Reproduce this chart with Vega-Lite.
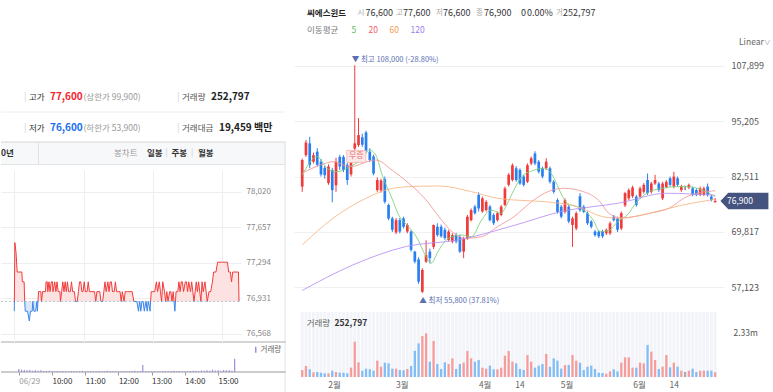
{
"$schema": "https://vega.github.io/schema/vega-lite/v6.json",
"background": "white",
"padding": 0,
"spacing": 8,
"bounds": "full",
"config": {"view": {"stroke": null}, "font": "Noto Sans CJK KR"},
"resolve": {"scale": {"color": "independent"}, "legend": {"color": "independent"}},
"datasets": {
"candles": [
{"i":0,"o":80200,"h":86600,"l":79000,"c":86300,"v":370000},
{"i":1,"o":87400,"h":90900,"l":87000,"c":90300,"v":582000},
{"i":2,"o":90100,"h":91600,"l":84400,"c":85200,"v":408000},
{"i":3,"o":85900,"h":88000,"l":85500,"c":87400,"v":249000},
{"i":4,"o":88200,"h":89000,"l":84800,"c":85200,"v":265000},
{"i":5,"o":85900,"h":86500,"l":82500,"c":83000,"v":228000},
{"i":6,"o":84500,"h":85000,"l":82000,"c":82800,"v":196000},
{"i":7,"o":81000,"h":85300,"l":80600,"c":84800,"v":196000},
{"i":8,"o":84000,"h":84500,"l":76600,"c":79400,"v":334000},
{"i":9,"o":80500,"h":86800,"l":79000,"c":85900,"v":265000},
{"i":10,"o":87000,"h":87500,"l":84000,"c":84800,"v":228000},
{"i":11,"o":87000,"h":87400,"l":83500,"c":84000,"v":228000},
{"i":12,"o":85200,"h":85600,"l":80600,"c":81700,"v":196000},
{"i":13,"o":83000,"h":86500,"l":82500,"c":86000,"v":494000},
{"i":14,"o":88900,"h":108000,"l":88500,"c":90100,"v":1870000},
{"i":15,"o":89700,"h":95900,"l":89300,"c":92000,"v":777000},
{"i":16,"o":91500,"h":92300,"l":89300,"c":89800,"v":334000},
{"i":17,"o":92600,"h":93000,"l":88000,"c":88400,"v":440000},
{"i":18,"o":88200,"h":89000,"l":85800,"c":86300,"v":408000},
{"i":19,"o":87100,"h":87500,"l":82800,"c":83200,"v":334000},
{"i":20,"o":79400,"h":82300,"l":79000,"c":81700,"v":865000},
{"i":21,"o":79300,"h":82000,"l":78800,"c":81600,"v":547000},
{"i":22,"o":81900,"h":82500,"l":76300,"c":76700,"v":760000},
{"i":23,"o":76000,"h":76300,"l":72500,"c":72900,"v":724000},
{"i":24,"o":72900,"h":73300,"l":69800,"c":70300,"v":440000},
{"i":25,"o":69700,"h":73000,"l":69300,"c":72500,"v":440000},
{"i":26,"o":72500,"h":73000,"l":69500,"c":69900,"v":370000},
{"i":27,"o":72900,"h":73300,"l":70600,"c":71000,"v":353000},
{"i":28,"o":69900,"h":71800,"l":69500,"c":71400,"v":424000},
{"i":29,"o":69900,"h":70200,"l":65300,"c":65700,"v":582000},
{"i":30,"o":65300,"h":65500,"l":62600,"c":63000,"v":1390000},
{"i":31,"o":63500,"h":64000,"l":57900,"c":58400,"v":1780000},
{"i":32,"o":56100,"h":61500,"l":55800,"c":61100,"v":2170000},
{"i":33,"o":63000,"h":67900,"l":62700,"c":64500,"v":2310000},
{"i":34,"o":65300,"h":66000,"l":62600,"c":63800,"v":811000},
{"i":35,"o":66400,"h":71500,"l":65900,"c":71400,"v":1910000},
{"i":36,"o":71000,"h":71800,"l":68700,"c":69100,"v":688000},
{"i":37,"o":71000,"h":71500,"l":68500,"c":68800,"v":424000},
{"i":38,"o":70300,"h":70800,"l":68000,"c":68400,"v":777000},
{"i":39,"o":68000,"h":70300,"l":67600,"c":69900,"v":688000},
{"i":40,"o":67600,"h":69500,"l":67200,"c":69100,"v":988000},
{"i":41,"o":69100,"h":69600,"l":67200,"c":67600,"v":424000},
{"i":42,"o":68700,"h":69200,"l":65000,"c":65300,"v":688000},
{"i":43,"o":65300,"h":68700,"l":63800,"c":68300,"v":760000},
{"i":44,"o":68300,"h":73700,"l":68000,"c":73300,"v":1380000},
{"i":45,"o":72500,"h":75200,"l":72200,"c":74800,"v":988000},
{"i":46,"o":75600,"h":76000,"l":73800,"c":74100,"v":811000},
{"i":47,"o":78300,"h":78900,"l":74500,"c":75200,"v":900000},
{"i":48,"o":74500,"h":77900,"l":74200,"c":77500,"v":494000},
{"i":49,"o":74800,"h":77100,"l":74500,"c":76700,"v":440000},
{"i":50,"o":75600,"h":76000,"l":72200,"c":72500,"v":600000},
{"i":51,"o":73700,"h":74100,"l":71400,"c":71800,"v":408000},
{"i":52,"o":72500,"h":74500,"l":72200,"c":74100,"v":408000},
{"i":53,"o":73700,"h":76000,"l":73400,"c":75600,"v":494000},
{"i":54,"o":76000,"h":80200,"l":75700,"c":79800,"v":1130000},
{"i":55,"o":80600,"h":83300,"l":80200,"c":82900,"v":1380000},
{"i":56,"o":81700,"h":85500,"l":81400,"c":85100,"v":811000},
{"i":57,"o":84400,"h":84900,"l":81300,"c":81700,"v":724000},
{"i":58,"o":84000,"h":84400,"l":80600,"c":80900,"v":424000},
{"i":59,"o":82500,"h":82900,"l":80200,"c":80600,"v":370000},
{"i":60,"o":81300,"h":85500,"l":81000,"c":85100,"v":1160000},
{"i":61,"o":85500,"h":87100,"l":85100,"c":86700,"v":811000},
{"i":62,"o":87800,"h":88300,"l":85100,"c":85500,"v":494000},
{"i":63,"o":85900,"h":86300,"l":83200,"c":83600,"v":600000},
{"i":64,"o":84400,"h":84800,"l":82100,"c":82500,"v":688000},
{"i":65,"o":84400,"h":86700,"l":84000,"c":85900,"v":1220000},
{"i":66,"o":84400,"h":84800,"l":80900,"c":81300,"v":547000},
{"i":67,"o":81300,"h":81700,"l":78600,"c":79000,"v":988000},
{"i":68,"o":77100,"h":77500,"l":74000,"c":74400,"v":865000},
{"i":69,"o":75600,"h":76000,"l":72900,"c":73300,"v":440000},
{"i":70,"o":74400,"h":77500,"l":74000,"c":77100,"v":635000},
{"i":71,"o":75600,"h":76000,"l":71800,"c":72200,"v":635000},
{"i":72,"o":71400,"h":73300,"l":66400,"c":72900,"v":1160000},
{"i":73,"o":70600,"h":74500,"l":70200,"c":74100,"v":865000},
{"i":74,"o":78000,"h":78700,"l":74400,"c":74800,"v":760000},
{"i":75,"o":75600,"h":76000,"l":74100,"c":74400,"v":370000},
{"i":76,"o":74100,"h":74500,"l":71400,"c":71800,"v":547000},
{"i":77,"o":72200,"h":72500,"l":70600,"c":71000,"v":600000},
{"i":78,"o":69900,"h":70300,"l":68700,"c":69100,"v":424000},
{"i":79,"o":69900,"h":70200,"l":68400,"c":68800,"v":228000},
{"i":80,"o":69900,"h":70300,"l":68400,"c":68800,"v":212000},
{"i":81,"o":69500,"h":70600,"l":69100,"c":70300,"v":176000},
{"i":82,"o":69500,"h":72200,"l":69100,"c":71800,"v":300000},
{"i":83,"o":73300,"h":73700,"l":72200,"c":72500,"v":408000},
{"i":84,"o":72900,"h":73300,"l":69800,"c":70300,"v":300000},
{"i":85,"o":70600,"h":74500,"l":70200,"c":74100,"v":760000},
{"i":86,"o":75900,"h":79000,"l":75500,"c":78700,"v":1040000},
{"i":87,"o":77500,"h":79800,"l":77100,"c":79400,"v":1040000},
{"i":88,"o":78000,"h":80400,"l":77600,"c":80000,"v":494000},
{"i":89,"o":77900,"h":78300,"l":75600,"c":76000,"v":494000},
{"i":90,"o":77900,"h":80200,"l":77500,"c":79800,"v":760000},
{"i":91,"o":79000,"h":81000,"l":78600,"c":80600,"v":724000},
{"i":92,"o":81700,"h":83200,"l":78300,"c":78700,"v":1690000},
{"i":93,"o":79000,"h":81300,"l":78600,"c":80900,"v":1340000},
{"i":94,"o":80900,"h":82900,"l":80600,"c":81700,"v":900000},
{"i":95,"o":80900,"h":81300,"l":79000,"c":79400,"v":424000},
{"i":96,"o":77500,"h":81300,"l":77100,"c":80900,"v":547000},
{"i":97,"o":80100,"h":81700,"l":79800,"c":81300,"v":1160000},
{"i":98,"o":82100,"h":82500,"l":80200,"c":80600,"v":512000},
{"i":99,"o":80200,"h":83600,"l":79800,"c":82500,"v":760000},
{"i":100,"o":82100,"h":82500,"l":80200,"c":80600,"v":547000},
{"i":101,"o":79400,"h":80600,"l":79000,"c":80200,"v":334000},
{"i":102,"o":79800,"h":80400,"l":79400,"c":79800,"v":265000},
{"i":103,"o":80000,"h":80900,"l":79600,"c":80600,"v":334000},
{"i":104,"o":79800,"h":80200,"l":78000,"c":78300,"v":440000},
{"i":105,"o":79400,"h":79800,"l":78000,"c":78300,"v":265000},
{"i":106,"o":78300,"h":80200,"l":78000,"c":79800,"v":334000},
{"i":107,"o":78300,"h":80200,"l":78000,"c":79800,"v":334000},
{"i":108,"o":80200,"h":80900,"l":77900,"c":78300,"v":334000},
{"i":109,"o":77900,"h":78300,"l":76800,"c":77100,"v":334000},
{"i":110,"o":76600,"h":77600,"l":76600,"c":76900,"v":252797}
],
"ma": [
{"k":"5","i":0,"v":82860},{"k":"5","i":4,"v":87050},{"k":"5","i":6.6,"v":84400},{"k":"5","i":9.2,"v":83600},{"k":"5","i":12.7,"v":84760},{"k":"5","i":16.1,"v":86680},{"k":"5","i":17.9,"v":88580},{"k":"5","i":19.6,"v":87440},{"k":"5","i":21.3,"v":82860},{"k":"5","i":23.9,"v":77520},{"k":"5","i":25.7,"v":73700},{"k":"5","i":28.3,"v":71010},{"k":"5","i":30.4,"v":68720},{"k":"5","i":33,"v":64140},{"k":"5","i":34.3,"v":62630},{"k":"5","i":36.4,"v":65680},{"k":"5","i":39,"v":68360},{"k":"5","i":42.5,"v":69110},{"k":"5","i":45.1,"v":68720},{"k":"5","i":47.8,"v":72550},{"k":"5","i":50.3,"v":74840},{"k":"5","i":52.9,"v":74080},{"k":"5","i":54.7,"v":76370},{"k":"5","i":56.4,"v":79420},{"k":"5","i":58.5,"v":82470},{"k":"5","i":61.9,"v":84000},{"k":"5","i":64.5,"v":84390},{"k":"5","i":67.1,"v":82100},{"k":"5","i":68.9,"v":78670},{"k":"5","i":70.6,"v":76380},{"k":"5","i":73.2,"v":75600},{"k":"5","i":74.9,"v":74840},{"k":"5","i":77.5,"v":72550},{"k":"5","i":79.3,"v":69870},{"k":"5","i":81.9,"v":70250},{"k":"5","i":84,"v":72160},{"k":"5","i":86.6,"v":73700},{"k":"5","i":89.2,"v":76740},{"k":"5","i":92.5,"v":79030},{"k":"5","i":96.1,"v":79810},{"k":"5","i":99.6,"v":80180},{"k":"5","i":102.9,"v":80180},{"k":"5","i":106.5,"v":79420},{"k":"5","i":110,"v":77880},
{"k":"20","i":0,"v":83320},{"k":"20","i":4.9,"v":85150},{"k":"20","i":8.2,"v":85900},{"k":"20","i":12.7,"v":84760},{"k":"20","i":19.6,"v":86300},{"k":"20","i":23.9,"v":84000},{"k":"20","i":28.3,"v":81030},{"k":"20","i":33,"v":77130},{"k":"20","i":36.4,"v":73300},{"k":"20","i":39.9,"v":69870},{"k":"20","i":43.4,"v":68360},{"k":"20","i":47.8,"v":68720},{"k":"20","i":52,"v":71010},{"k":"20","i":56.4,"v":73300},{"k":"20","i":61.1,"v":76740},{"k":"20","i":64.5,"v":78660},{"k":"20","i":69.7,"v":79810},{"k":"20","i":74.9,"v":79030},{"k":"20","i":79.3,"v":76740},{"k":"20","i":81.6,"v":74150},{"k":"20","i":85,"v":73000},{"k":"20","i":92.5,"v":74080},{"k":"20","i":97.7,"v":75230},{"k":"20","i":102.4,"v":77880},{"k":"20","i":110,"v":79260},
{"k":"60","i":0,"v":66820},{"k":"60","i":8.2,"v":72940},{"k":"60","i":17,"v":77520},{"k":"60","i":22.2,"v":79420},{"k":"60","i":28.3,"v":80180},{"k":"60","i":36.4,"v":80340},{"k":"60","i":45.1,"v":79030},{"k":"60","i":52,"v":77520},{"k":"60","i":56.4,"v":77130},{"k":"60","i":64.5,"v":76740},{"k":"60","i":73.3,"v":75600},{"k":"60","i":80.1,"v":73300},{"k":"60","i":84.5,"v":72940},{"k":"60","i":92.5,"v":74080},{"k":"60","i":101.4,"v":75990},{"k":"60","i":110,"v":77290},
{"k":"120","i":0,"v":56400},{"k":"120","i":13.5,"v":62240},{"k":"120","i":27.7,"v":66480},{"k":"120","i":41.6,"v":67970},{"k":"120","i":56.4,"v":71290},{"k":"120","i":68.9,"v":74450},{"k":"120","i":84.5,"v":76440},{"k":"120","i":97,"v":78670},{"k":"120","i":110,"v":78200}
],
"ip": [
{"t":0,"p":76800},{"t":1,"p":77500},{"t":3,"p":77400},{"t":5,"p":77200},{"t":13,"p":77200},{"t":14,"p":77100},{"t":17,"p":77100},{"t":18,"p":76900},{"t":19,"p":76800},{"t":23,"p":76800},{"t":26,"p":76700},{"t":28,"p":76800},{"t":31,"p":76800},{"t":32,"p":76900},{"t":34,"p":76800},{"t":37,"p":76800},{"t":39,"p":76900},{"t":40,"p":76800},{"t":41,"p":76900},{"t":42,"p":77000},{"t":46,"p":77000},{"t":47,"p":76900},{"t":49,"p":77000},{"t":54,"p":77000},{"t":55,"p":77100},{"t":57,"p":77100},{"t":58,"p":77000},{"t":60,"p":77100},{"t":62,"p":77000},{"t":64,"p":77100},{"t":66,"p":77100},{"t":67,"p":77000},{"t":70,"p":77100},{"t":72,"p":77000},{"t":74,"p":77100},{"t":76,"p":77000},{"t":79,"p":77000},{"t":80,"p":76900},{"t":82,"p":77000},{"t":84,"p":77100},{"t":86,"p":77000},{"t":88,"p":77100},{"t":90,"p":77000},{"t":92,"p":77100},{"t":94,"p":77000},{"t":97,"p":77000},{"t":99,"p":77100},{"t":101,"p":77000},{"t":104,"p":77000},{"t":106,"p":76900},{"t":109,"p":76900},{"t":111,"p":77000},{"t":113,"p":77100},{"t":115,"p":77100},{"t":117,"p":77000},{"t":119,"p":77000},{"t":121,"p":77100},{"t":123,"p":77000},{"t":126,"p":77000},{"t":128,"p":77100},{"t":130,"p":77000},{"t":134,"p":77000},{"t":139,"p":77000},{"t":141,"p":76900},{"t":143,"p":77000},{"t":148,"p":77000},{"t":150,"p":76900},{"t":153,"p":76900},{"t":155,"p":77000},{"t":157,"p":77100},{"t":159,"p":77000},{"t":162,"p":77100},{"t":164,"p":77000},{"t":166,"p":77100},{"t":168,"p":77100},{"t":170,"p":77000},{"t":173,"p":77000},{"t":175,"p":77100},{"t":177,"p":77000},{"t":180,"p":77000},{"t":183,"p":77000},{"t":185,"p":76900},{"t":187,"p":77000},{"t":190,"p":76900},{"t":192,"p":77000},{"t":196,"p":77000},{"t":200,"p":77000},{"t":204,"p":77000},{"t":207,"p":76900},{"t":212,"p":76900},{"t":215,"p":76800},{"t":217,"p":76900},{"t":219,"p":76800},{"t":221,"p":76900},{"t":223,"p":76900},{"t":225,"p":76800},{"t":228,"p":76900},{"t":230,"p":76800},{"t":232,"p":76900},{"t":235,"p":76800},{"t":237,"p":77000},{"t":240,"p":77000},{"t":243,"p":77000},{"t":246,"p":77100},{"t":248,"p":77000},{"t":251,"p":77100},{"t":253,"p":77000},{"t":255,"p":76900},{"t":257,"p":77100},{"t":260,"p":77000},{"t":262,"p":76900},{"t":264,"p":77000},{"t":266,"p":76900},{"t":269,"p":77000},{"t":271,"p":77000},{"t":273,"p":76900},{"t":275,"p":77000},{"t":278,"p":76800},{"t":280,"p":77000},{"t":283,"p":77000},{"t":285,"p":77100},{"t":287,"p":77000},{"t":289,"p":77100},{"t":291,"p":77100},{"t":293,"p":77000},{"t":296,"p":77100},{"t":298,"p":77100},{"t":300,"p":77000},{"t":302,"p":77100},{"t":305,"p":77000},{"t":307,"p":77100},{"t":309,"p":77000},{"t":311,"p":76900},{"t":313,"p":77000},{"t":315,"p":77100},{"t":317,"p":77000},{"t":319,"p":77100},{"t":321,"p":77000},{"t":323,"p":76900},{"t":325,"p":77100},{"t":327,"p":77000},{"t":330,"p":77100},{"t":332,"p":77000},{"t":334,"p":76900},{"t":337,"p":77000},{"t":340,"p":77000},{"t":343,"p":77100},{"t":345,"p":77200},{"t":349,"p":77200},{"t":352,"p":77300},{"t":356,"p":77300},{"t":360,"p":77300},{"t":365,"p":77300},{"t":369,"p":77300},{"t":371,"p":77200},{"t":374,"p":77200},{"t":376,"p":77100},{"t":378,"p":77200},{"t":382,"p":77200},{"t":386,"p":77200},{"t":388,"p":77200},{"t":389,"p":76900}
],
"iv": [
{"t":0,"v":9000},{"t":5,"v":7000},{"t":10,"v":6000},{"t":15,"v":5000},{"t":20,"v":6000},{"t":25,"v":4000},{"t":30,"v":5000},{"t":35,"v":4000},{"t":40,"v":5000},{"t":45,"v":3000},{"t":50,"v":3000},{"t":55,"v":4000},{"t":60,"v":3000},{"t":65,"v":2500},{"t":70,"v":3000},{"t":75,"v":2000},{"t":80,"v":3000},{"t":85,"v":2500},{"t":90,"v":2000},{"t":95,"v":3000},{"t":100,"v":2000},{"t":105,"v":2500},{"t":110,"v":2000},{"t":115,"v":3500},{"t":120,"v":2000},{"t":125,"v":2500},{"t":130,"v":3000},{"t":135,"v":2000},{"t":140,"v":2500},{"t":145,"v":3000},{"t":150,"v":2000},{"t":155,"v":2500},{"t":160,"v":3500},{"t":165,"v":2000},{"t":170,"v":2500},{"t":175,"v":2000},{"t":180,"v":2000},{"t":185,"v":2500},{"t":190,"v":2000},{"t":195,"v":2000},{"t":200,"v":2500},{"t":205,"v":3000},{"t":210,"v":3500},{"t":215,"v":2500},{"t":220,"v":3000},{"t":224,"v":21000},{"t":230,"v":2500},{"t":235,"v":2000},{"t":240,"v":2500},{"t":245,"v":3000},{"t":250,"v":2500},{"t":255,"v":2000},{"t":260,"v":3000},{"t":265,"v":2500},{"t":270,"v":2000},{"t":275,"v":3000},{"t":280,"v":3500},{"t":285,"v":2500},{"t":290,"v":3000},{"t":295,"v":2500},{"t":300,"v":2000},{"t":305,"v":2500},{"t":310,"v":3000},{"t":315,"v":3500},{"t":320,"v":4000},{"t":325,"v":3000},{"t":330,"v":4500},{"t":335,"v":3500},{"t":340,"v":5000},{"t":345,"v":4000},{"t":350,"v":7000},{"t":355,"v":4500},{"t":360,"v":5000},{"t":365,"v":4000},{"t":370,"v":6000},{"t":375,"v":5000},{"t":380,"v":5000},{"t":385,"v":4000},{"t":390,"v":40000}
]
},
"hconcat": [
{
"spacing": 0,
"bounds": "flush",
"resolve": {"scale": {"color": "independent"}, "legend": {"color": "independent"}},
"vconcat": [
{
"width": 285, "height": 170,
"data": {"values": [{}]},
"layer": [
{"mark": {"type": "rule", "color": "#eeeeee"}, "encoding": {"x": {"value": 0}, "x2": {"value": 284.5}, "y": {"value": 112}}},
{"mark": {"type": "rect", "color": "#f7f8fa"}, "encoding": {"x": {"value": 0}, "x2": {"value": 284.5}, "y": {"value": 142}, "y2": {"value": 164}}},
{"mark": {"type": "rule", "color": "#d6d6d6"}, "encoding": {"x": {"value": 0}, "x2": {"value": 284.5}, "y": {"value": 142}}},
{"mark": {"type": "rule", "color": "#e2e2e2"}, "encoding": {"x": {"value": 0}, "x2": {"value": 284.5}, "y": {"value": 164.5}}},
{"mark": {"type": "rule", "color": "#e2e2e2"}, "encoding": {"x": {"value": 37.5}, "y": {"value": 142}, "y2": {"value": 164}}},
{"mark": {"type": "rule", "color": "#e2e2e2"}, "encoding": {"x": {"value": 284}, "y": {"value": 142}, "y2": {"value": 392}}},
{"mark": {"type": "rule", "color": "#aaaaaa"}, "encoding": {"x": {"value": 0}, "x2": {"value": 284.5}, "y": {"value": 342}}},
{"mark": {"type": "rule", "color": "#999999"}, "encoding": {"x": {"value": 0}, "x2": {"value": 284.5}, "y": {"value": 372}}},
{"mark": {"type": "text", "text": "|", "align": "left", "baseline": "middle", "fontSize": 9, "color": "#d0d0d0"}, "encoding": {"x": {"value": 23}, "y": {"value": 97}}},
{"mark": {"type": "text", "text": "고가", "align": "left", "baseline": "middle", "fontSize": 8.5, "color": "#333333"}, "encoding": {"x": {"value": 28}, "y": {"value": 97}}},
{"mark": {"type": "text", "text": "77,600", "align": "left", "baseline": "middle", "fontSize": 10, "fontWeight": "bold", "color": "#f5222d"}, "encoding": {"x": {"value": 49}, "y": {"value": 97}}},
{"mark": {"type": "text", "text": "(상한가 99,900)", "align": "left", "baseline": "middle", "fontSize": 8.5, "color": "#999999"}, "encoding": {"x": {"value": 82.5}, "y": {"value": 97}}},
{"mark": {"type": "text", "text": "|", "align": "left", "baseline": "middle", "fontSize": 9, "color": "#d0d0d0"}, "encoding": {"x": {"value": 176}, "y": {"value": 97}}},
{"mark": {"type": "text", "text": "거래량", "align": "left", "baseline": "middle", "fontSize": 8.5, "color": "#555555"}, "encoding": {"x": {"value": 181}, "y": {"value": 97}}},
{"mark": {"type": "text", "text": "252,797", "align": "left", "baseline": "middle", "fontSize": 10, "fontWeight": "bold", "color": "#222222"}, "encoding": {"x": {"value": 210}, "y": {"value": 97}}},
{"mark": {"type": "text", "text": "|", "align": "left", "baseline": "middle", "fontSize": 9, "color": "#d0d0d0"}, "encoding": {"x": {"value": 23}, "y": {"value": 127.5}}},
{"mark": {"type": "text", "text": "저가", "align": "left", "baseline": "middle", "fontSize": 8.5, "color": "#333333"}, "encoding": {"x": {"value": 28}, "y": {"value": 127.5}}},
{"mark": {"type": "text", "text": "76,600", "align": "left", "baseline": "middle", "fontSize": 10, "fontWeight": "bold", "color": "#1a6ff0"}, "encoding": {"x": {"value": 49}, "y": {"value": 127.5}}},
{"mark": {"type": "text", "text": "(하한가 53,900)", "align": "left", "baseline": "middle", "fontSize": 8.5, "color": "#999999"}, "encoding": {"x": {"value": 82.5}, "y": {"value": 127.5}}},
{"mark": {"type": "text", "text": "|", "align": "left", "baseline": "middle", "fontSize": 9, "color": "#d0d0d0"}, "encoding": {"x": {"value": 176}, "y": {"value": 127.5}}},
{"mark": {"type": "text", "text": "거래대금", "align": "left", "baseline": "middle", "fontSize": 8.5, "color": "#555555"}, "encoding": {"x": {"value": 181}, "y": {"value": 127.5}}},
{"mark": {"type": "text", "text": "19,459 백만", "align": "left", "baseline": "middle", "fontSize": 10, "fontWeight": "bold", "color": "#222222"}, "encoding": {"x": {"value": 218}, "y": {"value": 127.5}}},
{"mark": {"type": "text", "text": "0년", "align": "left", "baseline": "middle", "fontSize": 8.5, "fontWeight": "bold", "color": "#333333"}, "encoding": {"x": {"value": 0}, "y": {"value": 153}}},
{"mark": {"type": "text", "text": "봉차트", "align": "left", "baseline": "middle", "fontSize": 8.5, "color": "#999999"}, "encoding": {"x": {"value": 113}, "y": {"value": 153}}},
{"mark": {"type": "text", "text": "일봉", "align": "left", "baseline": "middle", "fontSize": 8.5, "fontWeight": "bold", "color": "#333333"}, "encoding": {"x": {"value": 146}, "y": {"value": 153}}},
{"mark": {"type": "text", "text": "|", "align": "left", "baseline": "middle", "fontSize": 8, "color": "#cccccc"}, "encoding": {"x": {"value": 164.5}, "y": {"value": 153}}},
{"mark": {"type": "text", "text": "주봉", "align": "left", "baseline": "middle", "fontSize": 8.5, "fontWeight": "bold", "color": "#333333"}, "encoding": {"x": {"value": 170.5}, "y": {"value": 153}}},
{"mark": {"type": "text", "text": "|", "align": "left", "baseline": "middle", "fontSize": 8, "color": "#cccccc"}, "encoding": {"x": {"value": 190}, "y": {"value": 153}}},
{"mark": {"type": "text", "text": "월봉", "align": "left", "baseline": "middle", "fontSize": 8.5, "fontWeight": "bold", "color": "#333333"}, "encoding": {"x": {"value": 197}, "y": {"value": 153}}}
]
},
{
"width": 240, "height": 172,
"data": {"name": "ip"},
"layer": [
{"mark": {"type": "area", "line": false, "fill": {"gradient": "linear", "x1": 0, "y1": 0, "x2": 0, "y2": 1, "stops": [{"offset": 0, "color": "#fde2e2"}, {"offset": 0.75, "color": "#fde2e2"}, {"offset": 0.75, "color": "#dbe8fa"}, {"offset": 1, "color": "#dbe8fa"}]}},
 "encoding": {
  "x": {"field": "t", "type": "quantitative", "scale": {"domain": [-23, 392.4], "nice": false, "zero": false}, "axis": {"orient": "bottom", "values": [0, 60, 120, 180, 240, 300, 360], "grid": true, "gridColor": "#eeeeee", "labels": false, "ticks": false, "domain": false, "title": null}},
  "y": {"field": "p", "type": "quantitative", "scale": {"domain": [76486, 78241], "nice": false, "zero": false}, "axis": {"orient": "right", "values": [76568, 76931, 77294, 77657, 78020], "format": ",.0f", "grid": true, "gridColor": "#eeeeee", "ticks": false, "domain": false, "labelPadding": 5, "labelFontSize": 8, "labelColor": "#888888", "title": null}},
  "y2": {"datum": 76900}
 }},
{"data": {"values": [{}]}, "mark": {"type": "rule", "color": "#c4c4c4", "strokeDash": [2, 2]}, "encoding": {"x": {"datum": -23}, "x2": {"datum": 390}, "y": {"datum": 76900}}},
{"mark": {"type": "line", "strokeWidth": 1, "stroke": {"gradient": "linear", "x1": 0, "y1": 0, "x2": 0, "y2": 1, "stops": [{"offset": 0, "color": "#f23b3b"}, {"offset": 0.75, "color": "#f23b3b"}, {"offset": 0.75, "color": "#3d86e8"}, {"offset": 1, "color": "#3d86e8"}]}},
 "encoding": {"x": {"field": "t", "type": "quantitative"}, "y": {"field": "p", "type": "quantitative"}}}
]
},
{
"width": 240, "height": 30,
"data": {"name": "iv"},
"mark": {"type": "bar", "width": 1.2},
"encoding": {
 "x": {"field": "t", "type": "quantitative", "scale": {"domain": [-23, 392.4], "nice": false, "zero": false}, "axis": {"orient": "bottom", "values": [0, 60, 120, 180, 240, 300, 360], "labelExpr": "datum.value == 0 ? '06/29' : (9 + datum.value / 60) + ':00'", "labelAlign": "left", "labelColor": {"condition": {"test": "datum.value == 0", "value": "#999999"}, "value": "#333333"}, "labelFontSize": 8, "labelPadding": 2, "ticks": true, "tickSize": 3, "tickColor": "#999999", "domain": false, "grid": false, "title": null}},
 "y": {"field": "v", "type": "quantitative", "scale": {"domain": [0, 90000], "nice": false}, "axis": null},
 "color": {"datum": "거래량", "scale": {"domain": ["거래량"], "range": ["#9d8ce0"]}, "legend": {"orient": "none", "legendX": 251, "legendY": 4, "title": null, "symbolType": "M -0.25 -1 L 0.25 -1 L 0.25 1 L -0.25 1 Z", "symbolSize": 36, "symbolStrokeWidth": 0, "labelFontSize": 7.5, "labelColor": "#666666", "labelOffset": 1, "padding": 0}}
}
}
]
},
{
"spacing": 7,
"bounds": "flush",
"resolve": {"scale": {"color": "independent"}, "legend": {"color": "independent"}},
"vconcat": [
{
"width": 430, "height": 43,
"data": {"values": [{}]},
"layer": [
{"mark": {"type": "text", "text": "씨에스윈드", "align": "left", "baseline": "middle", "fontSize": 8.5, "fontWeight": "bold", "color": "#222222"}, "encoding": {"x": {"value": 13}, "y": {"value": 13}}},
{"mark": {"type": "text", "text": "시", "align": "left", "baseline": "middle", "fontSize": 7.5, "color": "#aaaaaa"}, "encoding": {"x": {"value": 63.5}, "y": {"value": 13}}},
{"mark": {"type": "text", "text": "76,600", "align": "left", "baseline": "middle", "fontSize": 9, "color": "#333333"}, "encoding": {"x": {"value": 71.5}, "y": {"value": 13}}},
{"mark": {"type": "text", "text": "고", "align": "left", "baseline": "middle", "fontSize": 7.5, "color": "#aaaaaa"}, "encoding": {"x": {"value": 102}, "y": {"value": 13}}},
{"mark": {"type": "text", "text": "77,600", "align": "left", "baseline": "middle", "fontSize": 9, "color": "#333333"}, "encoding": {"x": {"value": 109}, "y": {"value": 13}}},
{"mark": {"type": "text", "text": "저", "align": "left", "baseline": "middle", "fontSize": 7.5, "color": "#aaaaaa"}, "encoding": {"x": {"value": 142}, "y": {"value": 13}}},
{"mark": {"type": "text", "text": "76,600", "align": "left", "baseline": "middle", "fontSize": 9, "color": "#333333"}, "encoding": {"x": {"value": 149}, "y": {"value": 13}}},
{"mark": {"type": "text", "text": "종", "align": "left", "baseline": "middle", "fontSize": 7.5, "color": "#aaaaaa"}, "encoding": {"x": {"value": 182}, "y": {"value": 13}}},
{"mark": {"type": "text", "text": "76,900", "align": "left", "baseline": "middle", "fontSize": 9, "color": "#333333"}, "encoding": {"x": {"value": 190}, "y": {"value": 13}}},
{"mark": {"type": "text", "text": "0", "align": "left", "baseline": "middle", "fontSize": 9, "color": "#333333"}, "encoding": {"x": {"value": 227}, "y": {"value": 13}}},
{"mark": {"type": "text", "text": "0.00%", "align": "left", "baseline": "middle", "fontSize": 9, "color": "#333333"}, "encoding": {"x": {"value": 233}, "y": {"value": 13}}},
{"mark": {"type": "text", "text": "거", "align": "left", "baseline": "middle", "fontSize": 7.5, "color": "#aaaaaa"}, "encoding": {"x": {"value": 262}, "y": {"value": 13}}},
{"mark": {"type": "text", "text": "252,797", "align": "left", "baseline": "middle", "fontSize": 9, "color": "#333333"}, "encoding": {"x": {"value": 269}, "y": {"value": 13}}},
{"mark": {"type": "text", "text": "Linear", "align": "left", "baseline": "middle", "fontSize": 8.5, "color": "#666666"}, "encoding": {"x": {"value": 445}, "y": {"value": 42}}},
{"mark": {"type": "text", "text": "∨", "align": "left", "baseline": "middle", "fontSize": 6.5, "color": "#888888"}, "encoding": {"x": {"value": 470}, "y": {"value": 43}}}
]
},
{
"width": 430, "height": 255,
"layer": [
{"data": {"name": "candles"}, "mark": {"type": "rule", "strokeWidth": 1},
 "encoding": {
  "x": {"field": "i", "type": "quantitative", "scale": {"domain": [-0.859, 111.03], "nice": false, "zero": false}, "axis": null},
  "y": {"field": "l", "type": "quantitative", "scale": {"domain": [53067, 111497], "nice": false, "zero": false}, "axis": {"orient": "right", "values": [57123, 63470, 69817, 76164, 82511, 88858, 95205, 101552, 107899], "labelExpr": "datum.value == 76164 ? '' : format(datum.value, ',')", "title": null, "grid": true, "gridColor": "#f0f0f0", "ticks": false, "domain": false, "labelPadding": 7, "labelFontSize": 9, "labelColor": "#555555"}},
  "y2": {"field": "h"},
  "color": {"condition": [{"test": "datum.c > datum.o", "value": "#f03b3b"}, {"test": "datum.c < datum.o", "value": "#2a7ff0"}], "value": "#444444"}
 }},
{"data": {"name": "candles"}, "mark": {"type": "bar", "width": 2.7},
 "encoding": {
  "x": {"field": "i", "type": "quantitative"},
  "y": {"field": "o", "type": "quantitative"},
  "y2": {"field": "c"},
  "color": {"condition": [{"test": "datum.c > datum.o", "value": "#f03b3b"}, {"test": "datum.c < datum.o", "value": "#2a7ff0"}], "value": "#444444"}
 }},
{"data": {"name": "ma"}, "mark": {"type": "line", "strokeWidth": 1, "interpolate": "monotone", "opacity": 0.85},
 "encoding": {
  "x": {"field": "i", "type": "quantitative"},
  "y": {"field": "v", "type": "quantitative"},
  "color": {"field": "k", "type": "nominal", "scale": {"domain": ["5", "20", "60", "120"], "range": ["#78d078", "#f49494", "#f8b583", "#b58ff2"]},
   "legend": {"orient": "none", "legendX": 13, "legendY": -24, "direction": "horizontal", "title": "이동평균", "titleOrient": "left", "titleFontSize": 8.5, "titleFontWeight": "normal", "titleColor": "#777777", "titlePadding": 4, "symbolType": "circle", "symbolSize": 0.01, "symbolStrokeWidth": 0, "symbolOpacity": 0, "labelOffset": 0, "columnPadding": 3, "gridAlign": "none", "labelFontSize": 8.5, "labelColor": {"expr": "datum.value == '5' ? '#55c455' : datum.value == '20' ? '#f06464' : datum.value == '60' ? '#f59a55' : '#a27af0'"}}}
 }},
{"data": {"values": [{}]}, "mark": {"type": "text", "text": "▼ 최고 108,000 (-28.80%)", "align": "left", "baseline": "middle", "dx": -3, "dy": -5, "fontSize": 7.5, "color": "#5b6fb3"},
 "encoding": {"x": {"datum": 14}, "y": {"datum": 108000}}},
{"data": {"values": [{}]}, "mark": {"type": "text", "text": "▲ 최저 55,800 (37.81%)", "align": "left", "baseline": "middle", "dx": -3, "dy": 8, "fontSize": 7.5, "color": "#5b6fb3"},
 "encoding": {"x": {"datum": 32}, "y": {"datum": 55800}}},
{"data": {"values": [{}]}, "mark": {"type": "point", "filled": false, "shape": "M -1 -0.63 L 1 -0.63 L 1 0.63 L -1 0.63 Z", "size": 361, "fill": "#fde8e8", "fillOpacity": 1, "stroke": "#f4b4b4", "strokeWidth": 0.8, "opacity": 1},
 "encoding": {"x": {"datum": 14.4}, "y": {"datum": 87100}}},
{"data": {"values": [{}]}, "mark": {"type": "text", "text": "무증", "align": "center", "baseline": "middle", "fontSize": 8, "color": "#e86f6f"},
 "encoding": {"x": {"datum": 14.4}, "y": {"datum": 87100}}},
{"data": {"values": [{}]}, "mark": {"type": "point", "filled": true, "shape": "M -1 0 L -0.67 -0.34 L 1 -0.34 L 1 0.34 L -0.67 0.34 Z", "size": 2304, "color": "#44547f", "opacity": 1},
 "encoding": {"x": {"datum": 117.8}, "y": {"datum": 76900}}},
{"data": {"values": [{}]}, "mark": {"type": "text", "text": "76,900", "align": "center", "baseline": "middle", "dx": -4.5, "fontSize": 8.5, "color": "#ffffff"},
 "encoding": {"x": {"datum": 117.8}, "y": {"datum": 76900}}}
]
},
{
"width": 430, "height": 65,
"layer": [
{"data": {"name": "candles"}, "mark": {"type": "bar", "width": 3, "color": "#f3f4f9"},
 "encoding": {
  "x": {"field": "i", "type": "quantitative", "scale": {"domain": [-0.859, 111.03], "nice": false, "zero": false}, "axis": {"orient": "bottom", "values": [8.5, 26.5, 48.6, 57.9, 70.4, 89.7, 99], "labelExpr": "datum.value < 10 ? '2월' : datum.value < 30 ? '3월' : datum.value < 50 ? '4월' : datum.value < 60 ? '14' : datum.value < 80 ? '5월' : datum.value < 95 ? '6월' : '14'", "ticks": false, "domain": false, "grid": false, "labelPadding": 3, "labelFontSize": 8.5, "labelColor": "#666666", "title": null}},
  "y": {"datum": 3440000, "type": "quantitative", "scale": {"domain": [0, 3440000], "nice": false}, "axis": {"orient": "right", "values": [2330000], "labelExpr": "'2.33m'", "title": null, "grid": false, "ticks": false, "domain": false, "labelPadding": 9, "labelFontSize": 8.5, "labelColor": "#555555"}}
 }},
{"data": {"name": "candles"}, "mark": {"type": "bar", "width": 2.3},
 "encoding": {
  "x": {"field": "i", "type": "quantitative"},
  "y": {"field": "v", "type": "quantitative"},
  "color": {"condition": [{"test": "datum.c > datum.o", "value": "#f59c9c"}, {"test": "datum.c < datum.o", "value": "#82bdf5"}], "value": "#aaaaaa"}
 }},
{"data": {"values": [{}]}, "mark": {"type": "text", "text": "거래량", "align": "left", "baseline": "middle", "fontSize": 8.5, "color": "#666666"}, "encoding": {"x": {"value": 12.7}, "y": {"value": 11}}},
{"data": {"values": [{}]}, "mark": {"type": "text", "text": "252,797", "align": "left", "baseline": "middle", "fontSize": 8.5, "fontWeight": "bold", "color": "#333333"}, "encoding": {"x": {"value": 40.5}, "y": {"value": 11}}}
]
}
]
}
]
}
